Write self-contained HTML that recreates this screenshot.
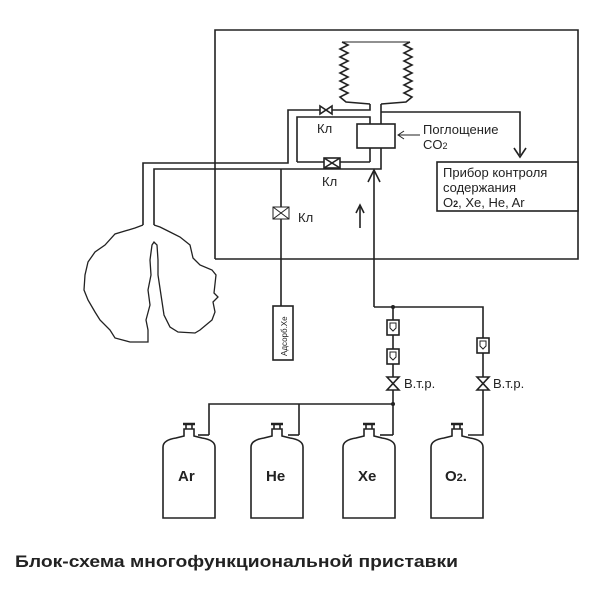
<!DOCTYPE html>
<html><head><meta charset="utf-8"><style>
html,body{margin:0;padding:0;background:#fff;}
svg{display:block;}
text{font-family:"Liberation Sans",sans-serif;fill:#222;}
</style></head><body>
<svg width="600" height="602" viewBox="0 0 600 602" xmlns="http://www.w3.org/2000/svg">
<g stroke="#222" stroke-width="1.6" fill="none">
<polyline points="215,259 215,30 578,30 578,259 215,259"/>
<polyline points="342,42 348,45 340,49 348,53 340,57 348,61 340,65 348,69 340,73 348,77 340,81 348,85 340,89 348,93 340,97 346,102 370,104"/>
<polyline points="410,42 404,45 412,49 404,53 412,57 404,61 412,65 404,69 412,73 404,77 412,81 404,85 412,89 404,93 412,97 406,102 381,104"/>
<line x1="342" y1="42" x2="410" y2="42" stroke-width="1"/>
<polyline points="143,225 143,163 288,163 288,110 370,110 370,104"/>
<polyline points="154,225 154,169 373,169"/>
<polyline points="297,162 297,117 370,117 370,124"/>
<line x1="297" y1="162" x2="370" y2="162"/>
<line x1="370" y1="148" x2="370" y2="162"/>
<polyline points="381,104 381,124"/>
<polyline points="381,148 381,169 373,169"/>
<polyline points="381,112 520,112 520,155"/>
<polyline points="514,148 520,157 526,148"/>
<rect x="357" y="124" width="38" height="24" fill="#fff"/>
<line x1="398" y1="135" x2="420" y2="135" stroke-width="1"/>
<polyline points="404,131 398,135 404,139" stroke-width="1"/>
<rect x="437" y="162" width="141" height="49" fill="#fff"/>
<line x1="374" y1="172" x2="374" y2="307"/>
<polyline points="368,182 374,170 380,182"/>
<line x1="360" y1="228" x2="360" y2="207"/>
<polyline points="356,213 360,205 364,213"/>
<line x1="281" y1="169" x2="281" y2="306"/>
<rect x="273" y="306" width="20" height="54" fill="#fff"/>
<polygon points="320,106 320,114 332,106 332,114" fill="#fff"/>
<rect x="324" y="158" width="16" height="10" fill="#fff"/>
<line x1="324" y1="158" x2="340" y2="168"/><line x1="340" y1="158" x2="324" y2="168"/>
<rect x="273" y="207" width="16" height="12" fill="#fff" stroke-width="1"/>
<line x1="273" y1="207" x2="289" y2="219" stroke-width="1"/><line x1="289" y1="207" x2="273" y2="219" stroke-width="1"/>
<path d="M143,225 L135,228 115,234 105,245 95,252 88,262 85,275 84,290 88,300 95,312 100,320 110,330 115,338 130,342 140,342 148,342 148,330 146,320 150,305 148,290 151,275 150,260 152,245 154,242 157,245 158,260 158,275 161,295 164,315 170,327 178,332 195,333 200,330 212,320 215,312 213,302 218,297 214,293 216,275 212,270 200,265 193,258 190,245 180,237 170,232 160,227 154,225" stroke-width="1.3"/>
<polyline points="374,307 483,307 483,435 468,435"/>
<line x1="393" y1="307" x2="393" y2="435"/>
<line x1="393" y1="435" x2="380" y2="435"/>
<polyline points="209,435 209,404 393,404"/>
<polyline points="299,435 299,404"/>
<line x1="209" y1="435" x2="198" y2="435"/>
<line x1="299" y1="435" x2="288" y2="435"/>
<rect x="387" y="320" width="12" height="15" fill="#fff"/>
<rect x="387" y="349" width="12" height="15" fill="#fff"/>
<rect x="477" y="338" width="12" height="15" fill="#fff"/>
<path d="M390,323 h6 v5 l-3,3 l-3,-3z M390,352 h6 v5 l-3,3 l-3,-3z M480,341 h6 v5 l-3,3 l-3,-3z" stroke-width="1"/>
<polygon points="387,377 399,377 387,390 399,390" fill="#fff"/>
<polygon points="477,377 489,377 477,390 489,390" fill="#fff"/>
</g>
<circle cx="393" cy="307" r="2" fill="#222"/>
<circle cx="393" cy="404" r="2" fill="#222"/>
<g stroke="#222" stroke-width="1.6" fill="none">
<g id="cyl">
<path d="M163,518 V447 Q163,440 176,438 L184,436 V429 H194 V436 L202,438 Q215,440 215,447 V518 Z"/>
<line x1="183" y1="424" x2="195" y2="424" stroke-width="2.5"/>
<line x1="186" y1="424" x2="186" y2="429"/><line x1="192" y1="424" x2="192" y2="429"/>
</g>
<use href="#cyl" x="88"/>
<use href="#cyl" x="180"/>
<use href="#cyl" x="268"/>
</g>
<text x="178" y="481" font-size="15" font-weight="bold">Ar</text>
<text x="266" y="481" font-size="15" font-weight="bold">He</text>
<text x="358" y="481" font-size="15" font-weight="bold">Xe</text>
<text x="445" y="481" font-size="15" font-weight="bold">O<tspan font-size="11">2</tspan>.</text>
<text x="317" y="133" font-size="13">Кл</text>
<text x="322" y="186" font-size="13">Кл</text>
<text x="298" y="222" font-size="13">Кл</text>
<text x="423" y="134" font-size="13">Поглощение</text>
<text x="423" y="149" font-size="13">CO<tspan font-size="9">2</tspan></text>
<text x="443" y="177" font-size="13">Прибор контроля</text>
<text x="443" y="192" font-size="13">содержания</text>
<text x="443" y="207" font-size="13">O<tspan font-size="9" font-weight="bold">2</tspan>, Xe, He, Ar</text>
<text x="404" y="388" font-size="13">В.т.р.</text>
<text x="493" y="388" font-size="13">В.т.р.</text>
<text transform="translate(287,356) rotate(-90)" font-size="8">Адсорб.Xe</text>
<text x="15" y="567" font-size="16.5" font-weight="bold" textLength="443" lengthAdjust="spacingAndGlyphs">Блок-схема многофункциональной приставки</text>
</svg>
</body></html>
